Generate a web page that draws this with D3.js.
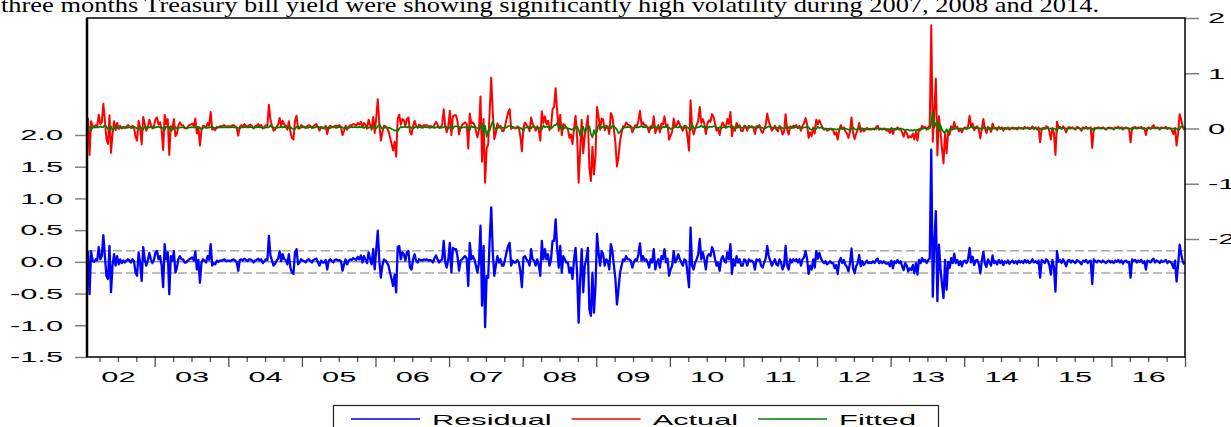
<!DOCTYPE html>
<html>
<head>
<meta charset="utf-8">
<script src="https://cdn.jsdelivr.net/npm/d3@7"></script>
<style>
  body { margin: 0; background: #fff; }
  svg { display: block; }
</style>
</head>
<body>
<svg id="chart"></svg>
<script>
var width = 1231,
    height = 427;

var caption = "three months Treasury bill yield were showing significantly high volatility during 2007, 2008 and 2014.";

var years = d3.range(2002, 2017);
var yearLabels = ["02","03","04","05","06","07","08","09","10","11","12","13","14","15","16"];
var leftTicks = [-1.5, -1.0, -0.5, 0.0, 0.5, 1.0, 1.5, 2.0];
var rightTicks = [-2, -1, 0, 1, 2];
var seriesNames = ["Residual", "Actual", "Fitted"];
var seriesColors = ["#0000ff", "#ff0000", "#008000"];
var residualSE = 0.175;
var perYear = 48;   // observations per year (2002 starts in February)

// residuals, one row per year
var residual = [
  [.17,-.51,.17,.02,0,.04,.02,.23,.04,.09,.42,.09,-.22,-.27,.25,-.48,-.06,.12,-.06,.09,-.04,.04,-.02,.02,-.01,.02,.04,.02,-.01,.04,.01,-.17,-.22,.15,-.02,-.3,.23,.04,-.06,.02,.14,.04,-.02,.03],
  [.15,.17,.04,.09,-.05,-.4,.28,.04,.15,-.51,.09,.02,.17,-.17,-.09,.05,.09,.04,.04,-.01,-.01,.02,.04,.05,.07,.02,.16,-.12,.03,-.33,-.01,.04,.02,-.01,.09,.03,.28,-.06,-.02,-.04,.02,0,.02,.02,.03,.04,.01,.02],
  [.02,.01,.03,.04,.02,-.01,-.14,.03,.04,.02,.05,.03,.01,.04,.04,.02,-.01,.02,.03,.05,.02,.04,-.02,.01,.04,.03,.41,.1,.02,-.06,-.03,.02,.05,.17,.01,.12,.04,.03,-.04,.12,-.09,-.17,-.19,.15,.2,-.04,-.01,.04],
  [.02,.01,-.01,.03,.04,.02,-.01,.03,.04,.05,-.01,-.06,.02,-.01,-.01,.03,-.12,.02,.04,.01,-.01,.03,.04,.02,.03,.01,-.14,-.04,.04,-.04,.02,.04,.03,.06,.04,.03,.08,.04,.1,-.01,.09,.03,-.02,.15,.04,-.04,.2,-.12],
  [.2,.49,.02,-.25,-.06,.04,.02,-.01,-.06,-.17,-.27,-.38,-.2,-.48,.23,.25,.04,.15,.12,.02,.15,.17,-.09,-.12,.04,.12,.02,-.01,.04,.03,.02,.04,.03,.04,.02,.03,.02,-.01,.06,.1,.04,-.01,.02,.04,.33,-.01,-.09,.04],
  [.3,-.17,.22,.2,.2,.09,-.14,.02,.04,.07,.09,.05,-.38,.3,.04,.09,.04,-.06,-.17,-.01,.57,-.69,.25,-1.03,-.22,-.25,.36,.86,.15,-.22,-.06,.09,-.01,.04,-.06,-.06,.04,.15,.25,.3,-.06,.02,-.01,-.01,.03,-.01,-.15,-.4],
  [.07,.09,.04,.01,-.06,.2,.04,.02,-.06,.04,-.05,-.22,.33,.04,.2,.04,.12,-.06,.04,.33,.33,.67,.22,-.09,.25,-.17,.09,.04,-.01,-.01,-.17,-.09,-.27,.04,.22,-.17,-.96,-.27,.2,-.48,-.06,.04,.22,-.75,-.85,-.17,-.8,-.38],
  [.44,.15,-.06,.17,.12,-.06,.04,.01,-.12,.28,.17,-.06,-.27,-.67,-.43,-.17,-.06,.04,.02,.09,.04,.04,.02,-.09,-.01,.04,.02,.12,.29,.02,.09,.02,.04,-.01,-.09,.04,-.01,.2,-.12,-.01,.04,-.09,.09,.04,.2,-.01,.05,-.22],
  [-.12,-.06,.17,-.01,.04,.12,.04,-.01,-.06,.04,.02,-.17,-.4,.54,-.06,-.12,-.01,.04,.12,.36,.04,.15,.04,-.12,.09,.12,.09,.23,.17,.04,-.06,-.01,-.14,.04,.09,.02,-.01,.15,.04,.28,-.19,.04,-.06,.09,-.01,.04,-.06,-.06],
  [.04,.02,-.06,.04,.01,.02,-.01,-.12,.04,.02,.04,-.06,-.09,-.01,.05,.25,.09,.02,-.06,-.01,.04,-.04,-.06,.04,-.01,-.12,-.06,.25,-.06,-.12,.04,-.01,.04,.02,.04,-.01,.04,-.06,.04,.07,.17,.05,-.19,-.06,-.12,.04,-.09,.17],
  [.05,.14,.06,.01,-.02,.01,-.04,-.02,.01,-.02,-.02,-.1,-.05,-.19,.01,.06,-.02,.03,-.05,-.08,-.15,-.02,.21,-.1,-.18,-.07,-.02,.11,-.07,.01,-.05,-.02,.02,-.02,-.01,-.02,.01,-.02,.03,.05,-.02,.01,-.02,.01,-.02,-.03,-.02,-.07],
  [.02,-.1,.01,-.02,.03,-.02,.01,-.07,-.13,-.02,-.06,-.15,-.1,-.13,-.05,-.18,-.02,-.2,.03,-.02,.06,.01,.03,-.02,.03,.05,1.77,-.55,.3,.8,-.62,.27,-.1,-.35,-.57,.03,-.44,0,-.1,.06,-.02,.13,-.02,.03,-.05,.01,-.07,.01],
  [.02,-.02,.04,.22,-.01,.08,-.05,.02,.03,-.03,-.18,.02,.16,-.03,-.08,.04,-.01,-.06,.1,-.02,.01,-.04,.03,-.02,.02,-.05,.01,-.02,.02,-.03,0,.02,-.02,.01,-.03,.02,-.01,.01,-.02,.03,-.01,.02,-.02,0,.04,-.01,.01,-.02],
  [.02,-.25,.03,.01,-.02,.04,.02,-.05,-.2,.03,-.08,-.47,.17,0,.03,-.02,.04,-.01,-.07,.02,.03,-.01,.02,0,-.02,.03,.01,-.01,-.04,.02,0,.03,-.02,.01,.02,-.35,.04,.01,-.01,.02,.01,-.01,.02,0,-.02,.01,.02,-.01],
  [.01,-.02,.02,0,.03,-.01,.02,-.03,.01,.02,-.01,0,-.25,.04,.01,.03,-.01,.02,0,.03,-.02,.01,-.12,.02,.01,-.01,.03,.05,-.01,.02,.01,-.02,.02,0,.01,.03,-.02,.01,0,-.03,-.1,.02,-.31,-.05,.27,.12,.01,-.04]
];

// fitted values, one row per year
var fitted = [
  [.02,.03,-.04,.03,.02,.02,.02,.02,.04,.02,.03,.06,.03,-.01,-.01,.04,-.04,.01,.03,.01,.03,.01,.02,.01,.02,.01,.02,.02,.02,.01,.02,.02,0,-.01,.03,.01,-.02,.04,.02,.01,.02,.03,.02,.01],
  [.02,.03,.03,.02,.02,.01,-.03,.04,.02,.03,-.05,-.02,0,.03,0,.01,.02,.02,.02,.02,.01,.01,.02,.02,.02,.02,.02,.03,0,.02,-.02,.01,.02,.02,.01,.02,.02,.04,.01,.01,.01,.02,.02,.02,.02,.02,.02,.02],
  [.02,.02,.03,.02,.02,.02,.01,0,.02,.02,.03,.02,.02,.02,.03,.02,.01,.02,.02,.03,.02,.02,.02,.01,.02,.02,.02,.06,.03,.02,.01,.01,.02,.02,.03,.02,.03,.02,.02,.01,.03,0,-.01,-.01,.03,.04,.01,.02],
  [.02,.02,.02,.01,.02,.03,.02,.01,.02,.03,.03,.02,.01,.02,.01,.02,.02,0,.01,.02,.03,.02,.01,.02,.03,.02,.02,0,.01,.02,.01,.02,.03,.02,.03,.02,.02,.03,.02,.03,.01,.03,.02,.01,.03,.02,.01,.04],
  [0,.04,.07,.03,-.01,.01,.02,.02,.01,.01,-.01,-.02,-.04,-.03,-.05,0,.03,.02,.03,.03,.02,.03,.03,.01,0,.02,.03,.02,.03,.02,.01,.02,.03,.02,.02,.01,.02,.03,.01,.02,.03,.02,.01,.02,.02,.05,.02,0],
  [.02,.05,0,.04,.04,.04,.03,0,.02,.02,.02,.03,.02,-.03,.05,.02,.03,.02,.01,-.01,.01,.09,-.08,.05,-.15,-.04,-.04,.06,.13,.03,-.02,0,.03,.01,.02,.01,.01,.02,.04,.05,.05,.01,.02,.01,.01,.02,.01,-.01],
  [-.05,.02,.02,.02,.01,0,.04,.02,.02,0,.02,0,-.02,.06,.02,.04,.02,.03,0,.02,.06,.06,.1,.05,0,.05,-.01,.02,.02,0,0,-.02,-.01,-.04,.01,.04,-.02,-.13,-.04,.03,-.07,-.01,.01,.04,-.1,-.16,-.03,-.11],
  [-.05,.07,.04,.01,.04,.03,.01,.02,.02,0,.05,.04,.01,-.02,-.09,-.06,-.02,0,.02,.02,.03,.02,.02,.02,0,.02,.02,.02,.03,.05,.02,.03,.02,.02,.02,0,.02,.02,.04,0,.02,.02,0,.03,.02,.04,.02,.02],
  [-.01,0,.01,.04,.02,.02,.03,.02,.02,.01,.02,.02,0,-.03,.08,.01,0,.02,.02,.03,.06,.02,.04,.02,0,.03,.03,.03,.04,.04,.02,.01,.02,0,.02,.03,.02,.02,.04,.02,.05,-.01,.02,.01,.03,.02,.02,.01],
  [.01,.02,.02,.01,.02,.02,.02,.02,0,.02,.02,.02,.01,0,.01,.02,.04,.03,.02,.01,.01,.02,.01,.01,.02,.01,0,.01,.04,.01,0,.02,.01,.02,.02,.02,.01,.02,.01,.02,.02,.03,.02,-.01,-.02,-.02,0,-.01],
  [.03,.01,.02,.01,0,-.01,0,-.01,-.01,0,-.01,-.01,-.02,-.01,-.03,0,.01,-.01,0,-.01,-.02,-.03,-.01,.02,-.01,-.02,-.01,-.01,.01,-.01,0,-.01,-.01,0,-.01,0,-.01,0,-.01,0,0,-.01,0,-.01,0,-.01,-.01,-.01],
  [-.01,0,-.02,0,-.01,0,-.01,0,-.02,-.03,-.02,-.02,-.04,-.03,-.04,-.02,-.04,-.02,-.04,-.01,-.01,0,0,0,-.01,0,.1,.31,.02,.1,.13,-.05,.06,-.02,-.06,-.09,-.01,-.07,-.01,-.02,0,-.01,.02,0,0,-.01,0,-.01],
  [0,.01,0,.01,.04,.01,.02,0,.01,.01,0,-.02,.01,.03,0,-.01,.01,0,-.01,.02,0,.01,0,.01,0,.01,0,.01,0,.01,0,0,.01,0,.01,0,.01,0,.01,0,.01,0,.01,0,0,0,.01,0],
  [0,0,-.03,0,.01,0,.01,0,0,-.02,0,-.01,-.05,.02,0,.01,0,.01,0,-.01,0,.01,0,0,0,0,.01,0,0,0,0,0,.01,0,0,0,-.04,0,.01,0,0,.01,0,0,0,0,0,.01],
  [0,0,0,.01,0,.01,0,.01,0,0,.01,0,0,-.03,.01,0,.01,0,.01,0,.01,0,0,-.01,.01,0,0,.01,.01,0,.01,0,0,.01,0,0,.01,0,0,0,0,-.01,0,-.03,-.01,.04,.03,.01]
];

// one record per observation; actual = fitted + residual
var data = [];
years.forEach(function(yr, i) {
  var n = residual[i].length;
  residual[i].forEach(function(r, k) {
    data.push({
      t: yr + 1 - (n - k - 0.5) / perYear,
      resid: r,
      fit: fitted[i][k],
      actual: r + fitted[i][k]
    });
  });
});

var plotL = 87, plotR = 1185, plotT = 18, plotB = 357;
var sx = 2.05;   // the original uses wide, stretched lettering

var x = d3.scaleLinear().domain([2002.08, 2017]).range([plotL, plotR]);
var yLeft = d3.scaleLinear().domain([-1.5, 3.844]).range([plotB, plotT]);
var yRight = d3.scaleLinear().domain([-4.136, 2]).range([plotB, plotT]);

var svg = d3.select("#chart")
            .attr("width", width)
            .attr("height", height)
            .style("font-family", "'Liberation Sans', Arial, sans-serif");

svg.append("rect").attr("width", width).attr("height", height).attr("fill", "#fff");

// caption line cut off at the top of the picture
svg.append("text")
   .attr("x", 1)
   .attr("y", 12)
   .attr("textLength", 1098)
   .attr("lengthAdjust", "spacingAndGlyphs")
   .style("font-family", "'Liberation Serif', 'Times New Roman', serif")
   .style("font-size", "22px")
   .attr("fill", "#000")
   .text(caption);

svg.append("clipPath").attr("id", "plotclip")
   .append("rect")
   .attr("x", plotL).attr("y", plotT)
   .attr("width", plotR - plotL).attr("height", plotB - plotT);

// residual reference lines
var refs = [0, residualSE, -residualSE];
svg.selectAll("line.ref")
   .data(refs)
   .enter().append("line")
     .attr("class", "ref")
     .attr("x1", plotL).attr("x2", plotR)
     .attr("y1", function(d) { return yLeft(d); })
     .attr("y2", function(d) { return yLeft(d); })
     .attr("stroke", function(d) { return d == 0 ? "#8c8c8c" : "#a8a8a8"; })
     .attr("stroke-width", 1.5)
     .attr("stroke-dasharray", function(d) { return d == 0 ? null : "9,4"; });

var plot = svg.append("g").attr("clip-path", "url(#plotclip)");

var residLine = d3.line().x(function(d) { return x(d.t); }).y(function(d) { return yLeft(d.resid); });
var actualLine = d3.line().x(function(d) { return x(d.t); }).y(function(d) { return yRight(d.actual); });
var fitLine = d3.line().x(function(d) { return x(d.t); }).y(function(d) { return yRight(d.fit); });

plot.append("path").datum(data).attr("d", residLine)
    .attr("fill", "none").attr("stroke", seriesColors[0]).attr("stroke-width", 2.3).attr("stroke-linejoin", "round");
plot.append("path").datum(data).attr("d", actualLine)
    .attr("fill", "none").attr("stroke", seriesColors[1]).attr("stroke-width", 2).attr("stroke-linejoin", "round");
plot.append("path").datum(data).attr("d", fitLine)
    .attr("fill", "none").attr("stroke", seriesColors[2]).attr("stroke-width", 1.7).attr("stroke-linejoin", "round");

// left axis (residual)
var gL = svg.append("g")
            .attr("transform", "translate(" + plotL + ",0)")
            .call(d3.axisLeft(yLeft).tickValues(leftTicks).tickSize(12).tickFormat(function(d) { return d.toFixed(1); }));
gL.select(".domain").remove();
gL.selectAll(".tick line").attr("stroke", "#808080").attr("stroke-width", 1.5);
gL.selectAll(".tick text")
  .attr("transform", "scale(" + sx + ",1)")
  .attr("x", -24 / sx)
  .attr("fill", "#000")
  .style("font-family", "'Liberation Sans', Arial, sans-serif")
  .style("font-size", "15px");

// right axis (actual / fitted)
var gR = svg.append("g")
            .attr("transform", "translate(" + plotR + ",0)")
            .call(d3.axisRight(yRight).tickValues(rightTicks).tickSize(14).tickFormat(function(d) { return String(d); }));
gR.select(".domain").remove();
gR.selectAll(".tick line").attr("stroke", "#808080").attr("stroke-width", 1.5);
gR.selectAll(".tick text")
  .attr("transform", "scale(" + sx + ",1)")
  .attr("x", 23 / sx)
  .attr("fill", "#000")
  .style("font-family", "'Liberation Sans', Arial, sans-serif")
  .style("font-size", "15px");

// bottom axis: year ticks, quarter ticks, labels at mid-year
var yearTicks = d3.range(2003, 2018);
var quarterTicks = d3.range(2002.25, 2017, 0.25).filter(function(d) { return d % 1 != 0; });

var gX = svg.append("g").attr("transform", "translate(0," + plotB + ")");
gX.append("g").call(d3.axisBottom(x).tickValues(yearTicks).tickSize(10).tickFormat(""));
gX.append("g").call(d3.axisBottom(x).tickValues(quarterTicks).tickSize(5).tickFormat(""));
var gLab = gX.append("g").call(
  d3.axisBottom(x).tickValues(years.map(function(y) { return y + 0.5; }))
    .tickSize(0).tickPadding(14)
    .tickFormat(function(d, i) { return yearLabels[i]; }));
gX.selectAll(".domain").remove();
gX.selectAll(".tick line").attr("stroke", "#555").attr("stroke-width", 1.3);
gLab.selectAll(".tick text")
    .attr("transform", "scale(" + sx + ",1)")
    .attr("fill", "#000")
    .style("font-family", "'Liberation Sans', Arial, sans-serif")
    .style("font-size", "15px");

// frame
svg.append("rect")
   .attr("x", plotL).attr("y", plotT)
   .attr("width", plotR - plotL).attr("height", plotB - plotT)
   .attr("fill", "none").attr("stroke", "#000").attr("stroke-width", 1.5);
svg.append("line")
   .attr("x1", plotL).attr("x2", plotL).attr("y1", plotT).attr("y2", plotB)
   .attr("stroke", "#000").attr("stroke-width", 2.5);

// legend
var legend = svg.append("g");
legend.append("rect")
      .attr("x", 333.5).attr("y", 405.5)
      .attr("width", 605).attr("height", 40)
      .attr("fill", "#fff").attr("stroke", "#222").attr("stroke-width", 1.2);

var lx = 351;
seriesNames.forEach(function(name, i) {
  legend.append("line")
        .attr("x1", lx).attr("x2", lx + 69)
        .attr("y1", 419).attr("y2", 419)
        .attr("stroke", seriesColors[i]).attr("stroke-width", 1.5);
  var t = legend.append("text")
        .attr("transform", "translate(" + (lx + 81) + ",425) scale(" + sx + ",1)")
        .attr("fill", "#000")
        .style("font-size", "15px")
        .text(name);
  lx = lx + 81 + t.node().getComputedTextLength() * sx + 20;
});
</script>
</body>
</html>
